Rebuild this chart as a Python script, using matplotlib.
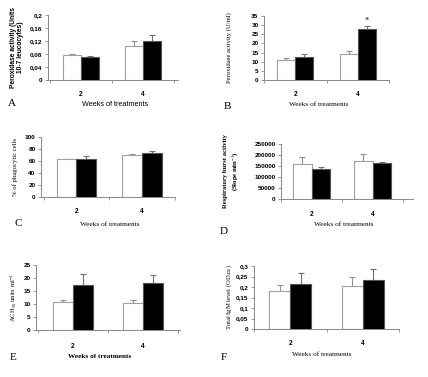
import matplotlib
matplotlib.use("Agg")
import matplotlib.pyplot as plt
import numpy as np

W, H = 428, 377
weeks = ["2", "4"]

# Panel A: peroxidase activity (Units 10-7 leucocytes)
a_ctrl = [0.078, 0.106]
a_ctrl_err = [0.002, 0.015]
a_trt = [0.070, 0.121]
a_trt_err = [0.005, 0.017]
a_ticks = [0, 0.04, 0.08, 0.12, 0.16, 0.2]
a_ticklabels = ["0", "0,04", "0,08", "0,12", "0,16", "0,2"]

# Panel B: peroxidase activity (U/ml)
b_ctrl = [10.8, 14.0]
b_ctrl_err = [1.4, 1.9]
b_trt = [12.6, 27.7]
b_trt_err = [1.4, 1.8]
b_ticks = [0, 5, 10, 15, 20, 25, 30, 35]
b_ticklabels = ["0", "5", "10", "15", "20", "25", "30", "35"]

# Panel C: % of phagocytic cells
c_ctrl = [62.8, 70.6]
c_ctrl_err = [1.2, 1.4]
c_trt = [64.0, 74.0]
c_trt_err = [4.4, 2.0]
c_ticks = [0, 20, 40, 60, 80, 100]
c_ticklabels = ["0", "20", "40", "60", "80", "100"]

# Panel D: respiratory burst activity
d_ctrl = [157600, 172700]
d_ctrl_err = [34800, 30300]
d_trt = [134800, 162000]
d_trt_err = [12200, 4700]
d_ticks = [0, 50000, 100000, 150000, 200000, 250000]
d_ticklabels = ["0", "50000", "100000", "150000", "200000", "250000"]

# Panel E: ACH50 units ml-1
e_ctrl = [10.65, 10.4]
e_ctrl_err = [0.85, 1.1]
e_trt = [17.3, 18.1]
e_trt_err = [4.3, 2.9]
e_ticks = [0, 5, 10, 15, 20, 25]
e_ticklabels = ["0", "5", "10", "15", "20", "25"]

# Panel F: total IgM level
f_ctrl = [0.179, 0.203]
f_ctrl_err = [0.031, 0.043]
f_trt = [0.214, 0.235]
f_trt_err = [0.051, 0.049]
f_ticks = [0, 0.05, 0.1, 0.15, 0.2, 0.25, 0.3]
f_ticklabels = ["0", "0,05", "0,1", "0,15", "0,2", "0,25", "0,3"]

SANS = "Liberation Sans"
SERIF = "Liberation Serif"
plt.rcParams["mathtext.fontset"] = "custom"
plt.rcParams["mathtext.rm"] = SERIF
plt.rcParams["mathtext.it"] = SERIF + ":italic"
plt.rcParams["mathtext.bf"] = SERIF + ":bold"

fig = plt.figure(figsize=(W / 100, H / 100), dpi=100)


def px_axes(left, right, top, bottom):
    return fig.add_axes([left / W, 1 - bottom / H, (right - left) / W, (bottom - top) / H])


def fig_text(x, y, s, **kw):
    fig.text(x / W, 1 - y / H, s, **kw)


def panel(rect, xlim, width, ctrl, ctrl_err, trt, trt_err, ticks, ticklabels,
          ylabel, ylab_font, ylab_x, xlab_pos, xlab_font, letter, letter_pos,
          tickpad=4, xlab_weight="normal", ylab_weight="normal"):
    ax = px_axes(*rect)
    x = np.arange(len(weeks))
    ax.bar(x - width / 2, ctrl, width, color="white", edgecolor="#a0a0a0", linewidth=0.8, zorder=2)
    ax.bar(x + width / 2, trt, width, color="black", edgecolor="#555555", linewidth=0.8, zorder=2)
    ax.errorbar(x - width / 2, ctrl, yerr=[np.zeros(len(ctrl)), ctrl_err], fmt="none",
                ecolor="#909090", elinewidth=0.8, capsize=2.2, capthick=0.8, zorder=1)
    ax.errorbar(x + width / 2, trt, yerr=[np.zeros(len(trt)), trt_err], fmt="none",
                ecolor="#707070", elinewidth=0.8, capsize=2.2, capthick=0.8, zorder=1)
    ax.set_xlim(*xlim)
    ax.set_ylim(ticks[0], ticks[-1])
    ax.set_yticks(ticks)
    ax.set_yticklabels(ticklabels, fontfamily=SANS, fontweight="bold", fontsize=4.6)
    ax.set_xticks(x)
    ax.set_xticklabels(weeks, fontfamily=SANS, fontweight="bold", fontsize=4.8)
    ax.tick_params(axis="x", length=0, pad=tickpad)
    ax.tick_params(axis="y", length=2.5, width=0.6, color="#888888", pad=1.5)
    ax.set_xticks([-0.5, 0.5, 1.5], minor=True)
    ax.tick_params(axis="x", which="minor", length=2, width=0.6, color="#888888")
    for s in ["top", "right"]:
        ax.spines[s].set_visible(False)
    for s in ["left", "bottom"]:
        ax.spines[s].set_color("#888888")
        ax.spines[s].set_linewidth(0.7)
    cy = (rect[2] + rect[3]) / 2
    if isinstance(ylabel, tuple):
        for i, line in enumerate(ylabel):
            fig_text(ylab_x[i], cy, line, rotation=90, ha="center", va="center",
                     fontfamily=ylab_font, fontsize=4.8, fontweight=ylab_weight)
    else:
        fig_text(ylab_x, cy, ylabel, rotation=90, ha="center", va="center",
                 fontfamily=ylab_font, fontsize=4.8, fontweight=ylab_weight, linespacing=1.1)
    fig_text(xlab_pos[0], xlab_pos[1], "Weeks of treatments", ha="center", va="center",
             fontfamily=xlab_font, fontsize=5.2, fontweight=xlab_weight)
    fig_text(letter_pos[0], letter_pos[1], letter, ha="center", va="center",
             fontfamily=SERIF, fontsize=8)
    return ax


# A
panel((48, 178, 15, 80), (-0.53, 1.56), 0.29, a_ctrl, a_ctrl_err, a_trt, a_trt_err,
      a_ticks, a_ticklabels, "Peroxidase activity (Units\n10-7 leucocytes)", SANS, 17,
      (115, 104), SANS, "A", (12, 104), tickpad=8, xlab_weight="normal", ylab_weight="bold")

# B
axb = panel((264, 389, 16, 80), (-0.30, 1.49), 0.29, b_ctrl, b_ctrl_err, b_trt, b_trt_err,
            b_ticks, b_ticklabels, "Peroxidase activity (U/ml)", SERIF, 229,
            (319, 105), SERIF, "B", (227, 107), tickpad=8)
axb.text(1 + 0.29 / 2, b_trt[1] + b_trt_err[1] + 0.8, "*", ha="center", va="bottom",
         fontsize=6, fontfamily=SERIF)

# C
panel((41, 175, 137, 197), (-0.54, 1.46), 0.30, c_ctrl, c_ctrl_err, c_trt, c_trt_err,
      c_ticks, c_ticklabels, "% of phagocytic cells", SERIF, 15,
      (110, 224), SERIF, "C", (18, 223), tickpad=8)

# D
panel((281, 413, 144, 199), (-0.50, 1.66), 0.30, d_ctrl, d_ctrl_err, d_trt, d_trt_err,
      d_ticks, d_ticklabels, ("Respiratory burst activity", "(Slope min$^{-1}$)"), SERIF, (226, 235),
      (344, 224), SERIF, "D", (224, 232), tickpad=9, ylab_weight="bold")

# E
panel((36, 180, 265, 330), (-0.53, 1.53), 0.29, e_ctrl, e_ctrl_err, e_trt, e_trt_err,
      e_ticks, e_ticklabels, "ACH$_{50}$ units ml$^{-1}$", SERIF, 14,
      (100, 356), SERIF, "E", (13, 358), tickpad=9, xlab_weight="bold")

# F
panel((254, 399, 266, 329), (-0.49, 1.49), 0.29, f_ctrl, f_ctrl_err, f_trt, f_trt_err,
      f_ticks, f_ticklabels, "Total IgM level (OD$_{450}$)", SERIF, 229,
      (322, 354), SERIF, "F", (224, 358), tickpad=8)

fig.savefig("out.png", dpi=100)
